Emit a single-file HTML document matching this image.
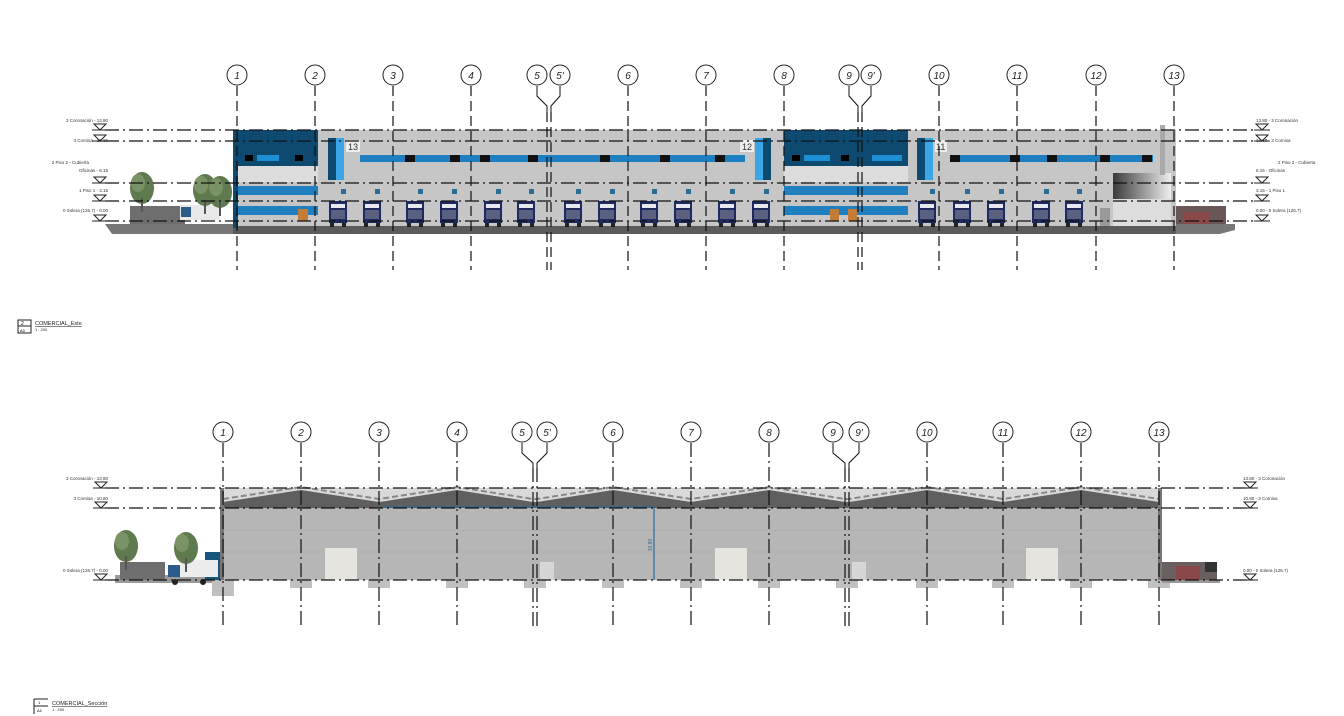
<!DOCTYPE html>
<html><head><meta charset="utf-8"><style>
html,body{margin:0;padding:0;background:#fff}
svg{display:block}
text{font-family:"Liberation Sans",sans-serif}
</style></head><body>
<svg width="1344" height="716" viewBox="0 0 1344 716" xmlns="http://www.w3.org/2000/svg">
<defs>
<linearGradient id="gr" x1="0" x2="1"><stop offset="0" stop-color="#3a3a3a"/><stop offset="1" stop-color="#eee"/></linearGradient>
<g id="truck"><rect x="0" y="0" width="18" height="22" fill="#1f2a5e"/><rect x="2" y="3" width="14" height="4" fill="#e8e8f0"/><rect x="2" y="9" width="14" height="9" fill="#5a6080"/><rect x="1" y="22" width="4" height="4" fill="#222"/><rect x="13" y="22" width="4" height="4" fill="#222"/></g>
<g id="tree"><ellipse cx="0" cy="0" rx="12" ry="16" fill="#5f7a4e"/><ellipse cx="-4" cy="-5" rx="7" ry="9" fill="#7a9366"/><rect x="-1" y="10" width="2" height="14" fill="#555"/></g>
<g id="lvl"><path d="M-6,-3 L6,-3 L0,3 Z" fill="none" stroke="#222" stroke-width="1"/><line x1="-8" y1="3" x2="8" y2="3" stroke="#222"/></g>
</defs>

<!-- ================= TOP ELEVATION ================= -->
<!-- ground -->
<path d="M105,224 L1235,224 L1235,230 L1220,234 L112,234 Z" fill="#777"/>
<rect x="130" y="206" width="55" height="18" fill="#6e6e6e"/>
<rect x="180" y="205" width="40" height="15" fill="#e8e8e8"/><rect x="181" y="207" width="10" height="10" fill="#2b5b8a"/>
<use href="#tree" x="142" y="188"/><use href="#tree" x="205" y="190"/><use href="#tree" x="220" y="192"/>
<!-- main body -->
<rect x="233" y="130" width="943" height="98" fill="#c6c6c6"/>
<rect x="233" y="226" width="943" height="8" fill="#5b5b5b"/>
<!-- office 1 -->
<rect x="233" y="130" width="85" height="37" fill="#0e4a70"/>
<rect x="233" y="130" width="5" height="98" fill="#0e4a70"/>
<rect x="238" y="166" width="80" height="16" fill="#dcdcdc"/>
<rect x="238" y="186" width="80" height="9" fill="#1f7fbf"/>
<rect x="238" y="206" width="80" height="9" fill="#1f7fbf"/>
<rect x="245" y="155" width="8" height="6" fill="#000"/><rect x="257" y="155" width="22" height="6" fill="#1e8fd4"/><rect x="295" y="155" width="8" height="6" fill="#000"/>
<rect x="298" y="209" width="10" height="12" fill="#c27c38"/>
<!-- office 2 -->
<rect x="784" y="130" width="124" height="37" fill="#0e4a70"/>
<rect x="784" y="166" width="124" height="16" fill="#dcdcdc"/>
<rect x="784" y="186" width="124" height="9" fill="#1f7fbf"/>
<rect x="784" y="206" width="124" height="9" fill="#1f7fbf"/>
<rect x="792" y="155" width="8" height="6" fill="#000"/><rect x="804" y="155" width="26" height="6" fill="#1e8fd4"/><rect x="841" y="155" width="8" height="6" fill="#000"/><rect x="872" y="155" width="30" height="6" fill="#1e8fd4"/>
<rect x="830" y="209" width="9" height="12" fill="#c27c38"/><rect x="848" y="209" width="9" height="12" fill="#c27c38"/>
<!-- stair towers -->
<rect x="328" y="138" width="8" height="42" fill="#0e4a70"/><rect x="336" y="138" width="8" height="42" fill="#3aa6e6"/>
<rect x="346" y="140" width="14" height="12" fill="#eee"/><text x="348" y="150" font-size="9" fill="#333">13</text>
<rect x="755" y="138" width="8" height="42" fill="#3aa6e6"/><rect x="763" y="138" width="8" height="42" fill="#0e4a70"/>
<rect x="740" y="140" width="14" height="12" fill="#eee"/><text x="742" y="150" font-size="9" fill="#333">12</text>
<rect x="917" y="138" width="8" height="42" fill="#0e4a70"/><rect x="925" y="138" width="8" height="42" fill="#3aa6e6"/>
<rect x="935" y="140" width="12" height="12" fill="#eee"/><text x="936" y="150" font-size="9" fill="#333">11</text>
<!-- window strips -->
<rect x="360" y="155" width="385" height="7" fill="#1e7fc0"/>
<rect x="950" y="155" width="203" height="7" fill="#1e7fc0"/>
<g fill="#111"><rect x="405" y="155" width="10" height="7"/><rect x="450" y="155" width="10" height="7"/><rect x="480" y="155" width="10" height="7"/><rect x="528" y="155" width="10" height="7"/><rect x="600" y="155" width="10" height="7"/><rect x="660" y="155" width="10" height="7"/><rect x="715" y="155" width="10" height="7"/><rect x="950" y="155" width="10" height="7"/><rect x="1010" y="155" width="10" height="7"/><rect x="1047" y="155" width="10" height="7"/><rect x="1100" y="155" width="10" height="7"/><rect x="1142" y="155" width="10" height="7"/></g>
<!-- right end -->
<rect x="1113" y="173" width="58" height="26" fill="url(#gr)"/>
<rect x="1113" y="199" width="58" height="27" fill="#ddd"/>
<rect x="1100" y="208" width="10" height="18" fill="#999"/>
<rect x="1160" y="125" width="5" height="50" fill="#aaa"/>
<rect x="1176" y="206" width="50" height="18" fill="#6a5656"/><rect x="1184" y="212" width="26" height="12" fill="#8a4848"/>
<!-- trucks & numbers -->
<g>
<use href="#truck" x="329" y="201"/><use href="#truck" x="363" y="201"/><use href="#truck" x="406" y="201"/><use href="#truck" x="440" y="201"/><use href="#truck" x="484" y="201"/><use href="#truck" x="517" y="201"/>
<use href="#truck" x="564" y="201"/><use href="#truck" x="598" y="201"/><use href="#truck" x="640" y="201"/><use href="#truck" x="674" y="201"/><use href="#truck" x="718" y="201"/><use href="#truck" x="752" y="201"/>
<use href="#truck" x="918" y="201"/><use href="#truck" x="953" y="201"/><use href="#truck" x="987" y="201"/><use href="#truck" x="1032" y="201"/><use href="#truck" x="1065" y="201"/>
</g>
<g fill="#2a6d98">
<rect x="341" y="189" width="5" height="5"/><rect x="375" y="189" width="5" height="5"/><rect x="418" y="189" width="5" height="5"/><rect x="452" y="189" width="5" height="5"/><rect x="496" y="189" width="5" height="5"/><rect x="529" y="189" width="5" height="5"/><rect x="576" y="189" width="5" height="5"/><rect x="610" y="189" width="5" height="5"/><rect x="652" y="189" width="5" height="5"/><rect x="686" y="189" width="5" height="5"/><rect x="730" y="189" width="5" height="5"/><rect x="764" y="189" width="5" height="5"/><rect x="930" y="189" width="5" height="5"/><rect x="965" y="189" width="5" height="5"/><rect x="999" y="189" width="5" height="5"/><rect x="1044" y="189" width="5" height="5"/><rect x="1077" y="189" width="5" height="5"/>
</g>
<!-- level lines top -->
<g stroke="#111" stroke-width="1.3" stroke-dasharray="14,4,2,4" fill="none">
<line x1="105" y1="130" x2="1255" y2="130"/><line x1="105" y1="141" x2="1255" y2="141"/>
<line x1="105" y1="183" x2="1255" y2="183"/><line x1="105" y1="201" x2="1255" y2="201"/><line x1="105" y1="221" x2="1255" y2="221"/>
</g>
<g><use href="#lvl" x="100" y="127"/><use href="#lvl" x="100" y="138"/><use href="#lvl" x="100" y="180"/><use href="#lvl" x="100" y="198"/><use href="#lvl" x="100" y="218"/>
<use href="#lvl" x="1262" y="127"/><use href="#lvl" x="1262" y="138"/><use href="#lvl" x="1262" y="180"/><use href="#lvl" x="1262" y="198"/><use href="#lvl" x="1262" y="218"/></g>
<g font-size="4.5" fill="#333" text-anchor="end">
<text x="108" y="122">3 Coronación - 13.80</text><text x="108" y="142">3 Cornisa - 10.80</text>
<text x="89" y="164">2 Piso 2 - Cubierta</text><text x="108" y="172">Oficinas - 6.15</text>
<text x="108" y="192">1 Piso 1 - 3.15</text><text x="108" y="212">0 Solera (126.7) - 0.00</text>
</g>
<g font-size="4.5" fill="#333">
<text x="1256" y="122">13.80 - 3 Coronación</text><text x="1256" y="142">10.80 - 3 Cornisa</text>
<text x="1278" y="164">2 Piso 2 - Cubierta</text><text x="1256" y="172">6.15 - Oficinas</text>
<text x="1256" y="192">3.15 - 1 Piso 1</text><text x="1256" y="212">0.00 - 0 Solera (126.7)</text>
</g>
<!-- grid lines top -->
<g stroke="#111" stroke-width="1.2" stroke-dasharray="10,5" fill="none">
<line x1="237" y1="86" x2="237" y2="270"/><line x1="315" y1="86" x2="315" y2="270"/><line x1="393" y1="86" x2="393" y2="270"/><line x1="471" y1="86" x2="471" y2="270"/>
<line x1="547" y1="112" x2="547" y2="270"/><line x1="551" y1="112" x2="551" y2="270"/>
<line x1="628" y1="86" x2="628" y2="270"/><line x1="706" y1="86" x2="706" y2="270"/><line x1="784" y1="86" x2="784" y2="270"/>
<line x1="858" y1="112" x2="858" y2="270"/><line x1="862" y1="112" x2="862" y2="270"/>
<line x1="939" y1="86" x2="939" y2="270"/><line x1="1017" y1="86" x2="1017" y2="270"/><line x1="1096" y1="86" x2="1096" y2="270"/><line x1="1174" y1="86" x2="1174" y2="270"/>
</g>
<g stroke="#111" fill="none" stroke-width="1"><path d="M537,86 L537,96 L547,106 L547,112"/><path d="M560,86 L560,96 L551,106 L551,112"/><path d="M849,86 L849,96 L858,106 L858,112"/><path d="M871,86 L871,96 L862,106 L862,112"/></g>
<g stroke="#222" fill="#fff" stroke-width="1">
<circle cx="237" cy="75" r="10"/><circle cx="315" cy="75" r="10"/><circle cx="393" cy="75" r="10"/><circle cx="471" cy="75" r="10"/><circle cx="537" cy="75" r="10"/><circle cx="560" cy="75" r="10"/><circle cx="628" cy="75" r="10"/><circle cx="706" cy="75" r="10"/><circle cx="784" cy="75" r="10"/><circle cx="849" cy="75" r="10"/><circle cx="871" cy="75" r="10"/><circle cx="939" cy="75" r="10"/><circle cx="1017" cy="75" r="10"/><circle cx="1096" cy="75" r="10"/><circle cx="1174" cy="75" r="10"/>
</g>
<g font-size="10" font-style="italic" fill="#222" text-anchor="middle">
<text x="237" y="79">1</text><text x="315" y="79">2</text><text x="393" y="79">3</text><text x="471" y="79">4</text><text x="537" y="79">5</text><text x="560" y="79">5'</text><text x="628" y="79">6</text><text x="706" y="79">7</text><text x="784" y="79">8</text><text x="849" y="79">9</text><text x="871" y="79">9'</text><text x="939" y="79">10</text><text x="1017" y="79">11</text><text x="1096" y="79">12</text><text x="1174" y="79">13</text>
</g>
<!-- title 1 -->
<rect x="18" y="320" width="13" height="13" fill="none" stroke="#222"/><line x1="18" y1="326" x2="31" y2="326" stroke="#222"/>
<text x="21" y="325" font-size="5">2</text><text x="20" y="332" font-size="4">A0</text>
<text x="35" y="325" font-size="5.5" fill="#222" text-decoration="underline">COMERCIAL_Este</text>
<text x="35" y="331" font-size="4" fill="#222">1 : 200</text>

<!-- ================= SECTION ================= -->
<rect x="115" y="575" width="105" height="8" fill="#9a9a9a"/>
<rect x="120" y="562" width="45" height="18" fill="#6e6e6e"/>
<rect x="205" y="552" width="15" height="28" fill="#17557e"/>
<rect x="180" y="560" width="38" height="17" fill="#ececec"/><rect x="168" y="565" width="12" height="12" fill="#2b5b8a"/>
<circle cx="175" cy="582" r="3" fill="#222"/><circle cx="203" cy="582" r="3" fill="#222"/>
<use href="#tree" x="126" y="546"/><use href="#tree" x="186" y="548"/>
<!-- building -->
<rect x="220" y="488" width="941" height="20" fill="#d9d9d9"/>
<polygon points="223,502 301,490 379,502 457,490 533,502 537,502 613,490 691,502 769,490 845,502 849,502 927,490 1003,502 1081,490 1159,502 1159,508 223,508" fill="#5f5f5f"/>
<polyline points="223,499 301,487 379,499 457,487 533,499 537,499 613,487 691,499 769,487 845,499 849,499 927,487 1003,499 1081,487 1159,499" fill="none" stroke="#888" stroke-width="2" stroke-dasharray="6,3"/>
<rect x="220" y="508" width="941" height="72" fill="#b6b6b6"/>
<g stroke="#a6a6a6" stroke-width="0.6"><line x1="222" y1="530" x2="1160" y2="530"/><line x1="222" y1="552" x2="1160" y2="552"/></g>
<line x1="382" y1="507" x2="655" y2="507" stroke="#2a6d98" stroke-width="1.2"/>
<line x1="654" y1="507" x2="654" y2="580" stroke="#2a6d98" stroke-width="1.2"/>
<text x="652" y="545" font-size="5" fill="#2a6d98" transform="rotate(-90 652 545)" text-anchor="middle">10.80</text>
<rect x="325" y="548" width="32" height="32" fill="#e6e4de"/>
<rect x="715" y="548" width="32" height="32" fill="#e6e4de"/>
<rect x="1026" y="548" width="32" height="32" fill="#e6e4de"/>
<rect x="540" y="562" width="14" height="18" fill="#d6d6d6"/><rect x="852" y="562" width="14" height="18" fill="#d6d6d6"/>
<rect x="220" y="488" width="4" height="100" fill="#777"/><rect x="1158" y="488" width="4" height="100" fill="#777"/>
<g fill="#c0c0c0"><rect x="212" y="580" width="22" height="16"/><rect x="290" y="580" width="22" height="8"/><rect x="368" y="580" width="22" height="8"/><rect x="446" y="580" width="22" height="8"/><rect x="524" y="580" width="22" height="8"/><rect x="602" y="580" width="22" height="8"/><rect x="680" y="580" width="22" height="8"/><rect x="758" y="580" width="22" height="8"/><rect x="836" y="580" width="22" height="8"/><rect x="916" y="580" width="22" height="8"/><rect x="992" y="580" width="22" height="8"/><rect x="1070" y="580" width="22" height="8"/><rect x="1148" y="580" width="22" height="8"/></g>
<rect x="1162" y="562" width="55" height="18" fill="#6b6060"/><rect x="1176" y="566" width="24" height="14" fill="#8a4848"/><rect x="1205" y="562" width="12" height="10" fill="#333"/>
<rect x="1162" y="580" width="58" height="3" fill="#999"/>
<!-- levels section -->
<g stroke="#111" stroke-width="1.3" stroke-dasharray="14,4,2,4" fill="none">
<line x1="105" y1="488" x2="1255" y2="488"/><line x1="105" y1="508" x2="1255" y2="508"/><line x1="105" y1="580" x2="1255" y2="580"/>
</g>
<g><use href="#lvl" x="101" y="485"/><use href="#lvl" x="101" y="505"/><use href="#lvl" x="101" y="577"/><use href="#lvl" x="1250" y="485"/><use href="#lvl" x="1250" y="505"/><use href="#lvl" x="1250" y="577"/></g>
<g font-size="4.5" fill="#333" text-anchor="end"><text x="108" y="480">3 Coronación - 13.80</text><text x="108" y="500">3 Cornisa - 10.80</text><text x="108" y="572">0 Solera (126.7) - 0.00</text></g>
<g font-size="4.5" fill="#333"><text x="1243" y="480">13.80 - 3 Coronación</text><text x="1243" y="500">10.80 - 3 Cornisa</text><text x="1243" y="572">0.00 - 0 Solera (126.7)</text></g>
<!-- grid lines section -->
<g stroke="#111" stroke-width="1.2" stroke-dasharray="14,4,2,4" fill="none">
<line x1="223" y1="443" x2="223" y2="628"/><line x1="301" y1="443" x2="301" y2="628"/><line x1="379" y1="443" x2="379" y2="628"/><line x1="457" y1="443" x2="457" y2="628"/>
<line x1="533" y1="468" x2="533" y2="628"/><line x1="537" y1="468" x2="537" y2="628"/>
<line x1="613" y1="443" x2="613" y2="628"/><line x1="691" y1="443" x2="691" y2="628"/><line x1="769" y1="443" x2="769" y2="628"/>
<line x1="845" y1="468" x2="845" y2="628"/><line x1="849" y1="468" x2="849" y2="628"/>
<line x1="927" y1="443" x2="927" y2="628"/><line x1="1003" y1="443" x2="1003" y2="628"/><line x1="1081" y1="443" x2="1081" y2="628"/><line x1="1159" y1="443" x2="1159" y2="628"/>
</g>
<g stroke="#111" fill="none" stroke-width="1"><path d="M522,443 L522,453 L533,463 L533,468"/><path d="M547,443 L547,453 L537,463 L537,468"/><path d="M833,443 L833,453 L845,463 L845,468"/><path d="M859,443 L859,453 L849,463 L849,468"/></g>
<g stroke="#222" fill="#fff" stroke-width="1">
<circle cx="223" cy="432" r="10"/><circle cx="301" cy="432" r="10"/><circle cx="379" cy="432" r="10"/><circle cx="457" cy="432" r="10"/><circle cx="522" cy="432" r="10"/><circle cx="547" cy="432" r="10"/><circle cx="613" cy="432" r="10"/><circle cx="691" cy="432" r="10"/><circle cx="769" cy="432" r="10"/><circle cx="833" cy="432" r="10"/><circle cx="859" cy="432" r="10"/><circle cx="927" cy="432" r="10"/><circle cx="1003" cy="432" r="10"/><circle cx="1081" cy="432" r="10"/><circle cx="1159" cy="432" r="10"/>
</g>
<g font-size="10" font-style="italic" fill="#222" text-anchor="middle">
<text x="223" y="436">1</text><text x="301" y="436">2</text><text x="379" y="436">3</text><text x="457" y="436">4</text><text x="522" y="436">5</text><text x="547" y="436">5'</text><text x="613" y="436">6</text><text x="691" y="436">7</text><text x="769" y="436">8</text><text x="833" y="436">9</text><text x="859" y="436">9'</text><text x="927" y="436">10</text><text x="1003" y="436">11</text><text x="1081" y="436">12</text><text x="1159" y="436">13</text>
</g>
<!-- title 2 -->
<path d="M34,699 L48,699 M34,699 L34,714 M34,706 L48,706" stroke="#222" fill="none"/>
<text x="38" y="704" font-size="4">1</text><text x="37" y="712" font-size="4">A2</text>
<text x="52" y="705" font-size="5.5" fill="#222" text-decoration="underline">COMERCIAL_Sección</text>
<text x="52" y="711" font-size="4" fill="#222">1 : 200</text>
</svg>
</body></html>
